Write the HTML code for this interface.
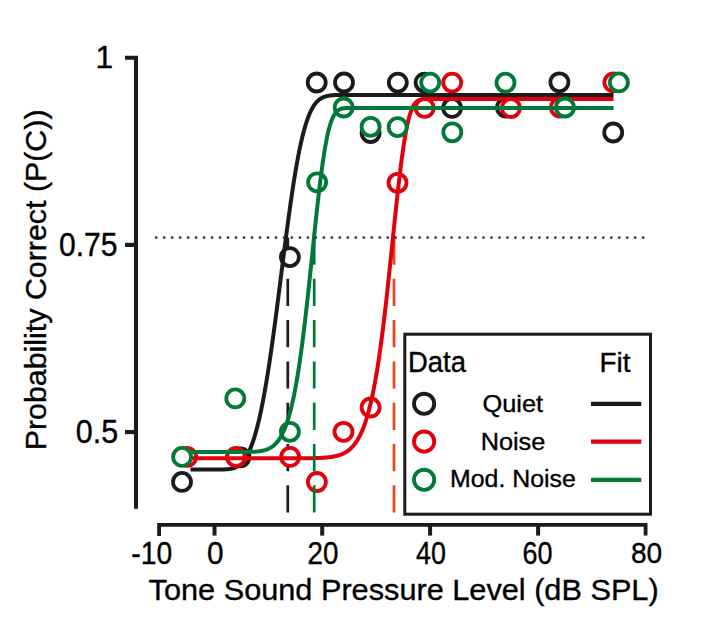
<!DOCTYPE html>
<html><head><meta charset="utf-8"><style>html,body{margin:0;padding:0;background:#fff;width:703px;height:627px;overflow:hidden}svg{display:block}</style></head>
<body><svg width="703" height="627" viewBox="0 0 703 627"><line x1="287.8" y1="237.5" x2="287.8" y2="512.7" stroke="#1b1b1b" stroke-width="2.7" stroke-dasharray="27.2 14.1"/>
<circle cx="182.0" cy="481.9" r="9.0" fill="#fff" stroke="#1b1b1b" stroke-width="3.8"/>
<circle cx="240.5" cy="457.3" r="9.0" fill="#fff" stroke="#1b1b1b" stroke-width="3.8"/>
<circle cx="289.9" cy="257.1" r="9.0" fill="#fff" stroke="#1b1b1b" stroke-width="3.8"/>
<circle cx="316.7" cy="82.5" r="9.0" fill="#fff" stroke="#1b1b1b" stroke-width="3.8"/>
<circle cx="344.0" cy="82.5" r="9.0" fill="#fff" stroke="#1b1b1b" stroke-width="3.8"/>
<circle cx="370.6" cy="133.0" r="9.0" fill="#fff" stroke="#1b1b1b" stroke-width="3.8"/>
<circle cx="397.8" cy="82.6" r="9.0" fill="#fff" stroke="#1b1b1b" stroke-width="3.8"/>
<circle cx="424.6" cy="82.6" r="9.0" fill="#fff" stroke="#1b1b1b" stroke-width="3.8"/>
<circle cx="452.1" cy="107.9" r="9.0" fill="#fff" stroke="#1b1b1b" stroke-width="3.8"/>
<circle cx="506.0" cy="107.5" r="9.0" fill="#fff" stroke="#1b1b1b" stroke-width="3.8"/>
<circle cx="559.4" cy="82.3" r="9.0" fill="#fff" stroke="#1b1b1b" stroke-width="3.8"/>
<circle cx="613.2" cy="132.5" r="9.0" fill="#fff" stroke="#1b1b1b" stroke-width="3.8"/>
<path d="M190.50,469.43 L191.00,469.43 L191.50,469.43 L192.00,469.43 L192.50,469.43 L193.00,469.43 L193.50,469.43 L194.00,469.43 L194.50,469.43 L195.00,469.43 L195.50,469.43 L196.00,469.43 L196.50,469.43 L197.00,469.43 L197.50,469.43 L198.00,469.43 L198.50,469.43 L199.00,469.43 L199.50,469.43 L200.00,469.43 L200.50,469.43 L201.00,469.43 L201.50,469.43 L202.00,469.43 L202.50,469.43 L203.00,469.43 L203.50,469.43 L204.00,469.43 L204.50,469.43 L205.00,469.43 L205.50,469.43 L206.00,469.43 L206.50,469.43 L207.00,469.43 L207.50,469.43 L208.00,469.43 L208.50,469.43 L209.00,469.43 L209.50,469.43 L210.00,469.43 L210.50,469.43 L211.00,469.43 L211.50,469.43 L212.00,469.43 L212.50,469.43 L213.00,469.43 L213.50,469.43 L214.00,469.43 L214.50,469.43 L215.00,469.43 L215.50,469.43 L216.00,469.43 L216.50,469.43 L217.00,469.43 L217.50,469.43 L218.00,469.43 L218.50,469.43 L219.00,469.43 L219.50,469.43 L220.00,469.43 L220.50,469.43 L221.00,469.43 L221.50,469.43 L222.00,469.42 L222.50,469.42 L223.00,469.42 L223.50,469.41 L224.00,469.40 L224.50,469.39 L225.00,469.37 L225.50,469.36 L226.00,469.34 L226.50,469.31 L227.00,469.28 L227.50,469.24 L228.00,469.20 L228.50,469.15 L229.00,469.10 L229.50,469.03 L230.00,468.96 L230.50,468.88 L231.00,468.79 L231.50,468.69 L232.00,468.57 L232.50,468.45 L233.00,468.31 L233.50,468.16 L234.00,467.99 L234.50,467.81 L235.00,467.61 L235.50,467.40 L236.00,467.16 L236.50,466.91 L237.00,466.64 L237.50,466.35 L238.00,466.03 L238.50,465.70 L239.00,465.33 L239.50,464.95 L240.00,464.54 L240.50,464.10 L241.00,463.63 L241.50,463.14 L242.00,462.61 L242.50,462.06 L243.00,461.47 L243.50,460.85 L244.00,460.20 L244.50,459.51 L245.00,458.78 L245.50,458.02 L246.00,457.22 L246.50,456.38 L247.00,455.50 L247.50,454.58 L248.00,453.61 L248.50,452.60 L249.00,451.55 L249.50,450.45 L250.00,449.31 L250.50,448.12 L251.00,446.88 L251.50,445.59 L252.00,444.25 L252.50,442.86 L253.00,441.42 L253.50,439.93 L254.00,438.38 L254.50,436.78 L255.00,435.13 L255.50,433.42 L256.00,431.65 L256.50,429.83 L257.00,427.95 L257.50,426.02 L258.00,424.02 L258.50,421.97 L259.00,419.86 L259.50,417.69 L260.00,415.46 L260.50,413.17 L261.00,410.82 L261.50,408.41 L262.00,405.95 L262.50,403.42 L263.00,400.84 L263.50,398.20 L264.00,395.50 L264.50,392.74 L265.00,389.92 L265.50,387.05 L266.00,384.12 L266.50,381.13 L267.00,378.09 L267.50,375.00 L268.00,371.85 L268.50,368.65 L269.00,365.40 L269.50,362.10 L270.00,358.75 L270.50,355.36 L271.00,351.91 L271.50,348.43 L272.00,344.90 L272.50,341.33 L273.00,337.72 L273.50,334.07 L274.00,330.39 L274.50,326.67 L275.00,322.92 L275.50,319.15 L276.00,315.34 L276.50,311.51 L277.00,307.65 L277.50,303.78 L278.00,299.88 L278.50,295.97 L279.00,292.05 L279.50,288.11 L280.00,284.17 L280.50,280.22 L281.00,276.27 L281.50,272.31 L282.00,268.36 L282.50,264.41 L283.00,260.47 L283.50,256.53 L284.00,252.61 L284.50,248.70 L285.00,244.82 L285.50,240.95 L286.00,237.10 L286.50,233.28 L287.00,229.48 L287.50,225.72 L288.00,221.99 L288.50,218.29 L289.00,214.63 L289.50,211.01 L290.00,207.43 L290.50,203.90 L291.00,200.41 L291.50,196.97 L292.00,193.58 L292.50,190.24 L293.00,186.95 L293.50,183.72 L294.00,180.54 L294.50,177.43 L295.00,174.37 L295.50,171.37 L296.00,168.44 L296.50,165.57 L297.00,162.76 L297.50,160.01 L298.00,157.34 L298.50,154.72 L299.00,152.18 L299.50,149.70 L300.00,147.29 L300.50,144.95 L301.00,142.67 L301.50,140.46 L302.00,138.32 L302.50,136.25 L303.00,134.24 L303.50,132.31 L304.00,130.43 L304.50,128.62 L305.00,126.88 L305.50,125.20 L306.00,123.59 L306.50,122.03 L307.00,120.54 L307.50,119.11 L308.00,117.74 L308.50,116.43 L309.00,115.17 L309.50,113.97 L310.00,112.82 L310.50,111.73 L311.00,110.69 L311.50,109.70 L312.00,108.75 L312.50,107.86 L313.00,107.01 L313.50,106.20 L314.00,105.44 L314.50,104.72 L315.00,104.04 L315.50,103.39 L316.00,102.79 L316.50,102.22 L317.00,101.68 L317.50,101.18 L318.00,100.70 L318.50,100.26 L319.00,99.84 L319.50,99.46 L320.00,99.09 L320.50,98.76 L321.00,98.44 L321.50,98.15 L322.00,97.87 L322.50,97.62 L323.00,97.39 L323.50,97.17 L324.00,96.97 L324.50,96.78 L325.00,96.61 L325.50,96.45 L326.00,96.31 L326.50,96.18 L327.00,96.05 L327.50,95.94 L328.00,95.84 L328.50,95.74 L329.00,95.66 L329.50,95.58 L330.00,95.51 L330.50,95.44 L331.00,95.39 L331.50,95.33 L332.00,95.28 L332.50,95.24 L333.00,95.20 L333.50,95.17 L334.00,95.13 L334.50,95.11 L335.00,95.08 L335.50,95.06 L336.00,95.04 L336.50,95.02 L337.00,95.00 L337.50,94.99 L338.00,94.97 L338.50,94.96 L339.00,94.95 L339.50,94.94 L340.00,94.94 L340.50,94.93 L341.00,94.92 L341.50,94.92 L342.00,94.91 L342.50,94.91 L343.00,94.90 L343.50,94.90 L344.00,94.90 L344.50,94.90 L345.00,94.89 L345.50,94.89 L346.00,94.89 L346.50,94.89 L347.00,94.89 L347.50,94.89 L348.00,94.89 L348.50,94.88 L349.00,94.88 L349.50,94.88 L350.00,94.88 L350.50,94.88 L351.00,94.88 L351.50,94.88 L352.00,94.88 L352.50,94.88 L353.00,94.88 L353.50,94.88 L354.00,94.88 L354.50,94.88 L355.00,94.88 L355.50,94.88 L356.00,94.88 L356.50,94.88 L357.00,94.88 L357.50,94.88 L358.00,94.88 L358.50,94.88 L359.00,94.88 L359.50,94.88 L360.00,94.88 L360.50,94.88 L361.00,94.88 L361.50,94.88 L362.00,94.88 L362.50,94.88 L363.00,94.88 L363.50,94.88 L364.00,94.88 L364.50,94.88 L365.00,94.88 L365.50,94.88 L366.00,94.88 L366.50,94.88 L367.00,94.88 L367.50,94.88 L368.00,94.88 L368.50,94.88 L369.00,94.88 L369.50,94.88 L370.00,94.88 L370.50,94.88 L371.00,94.88 L371.50,94.88 L372.00,94.88 L372.50,94.88 L373.00,94.88 L373.50,94.88 L374.00,94.88 L374.50,94.88 L375.00,94.88 L375.50,94.88 L376.00,94.88 L376.50,94.88 L377.00,94.88 L377.50,94.88 L378.00,94.88 L378.50,94.88 L379.00,94.88 L379.50,94.88 L380.00,94.88 L380.50,94.88 L381.00,94.88 L381.50,94.88 L382.00,94.88 L382.50,94.88 L383.00,94.88 L383.50,94.88 L384.00,94.88 L384.50,94.88 L385.00,94.88 L385.50,94.88 L386.00,94.88 L386.50,94.88 L387.00,94.88 L387.50,94.88 L388.00,94.88 L388.50,94.88 L389.00,94.88 L389.50,94.88 L390.00,94.88 L390.50,94.88 L391.00,94.88 L391.50,94.88 L392.00,94.88 L392.50,94.88 L393.00,94.88 L393.50,94.88 L394.00,94.88 L394.50,94.88 L395.00,94.88 L395.50,94.88 L396.00,94.88 L396.50,94.88 L397.00,94.88 L397.50,94.88 L398.00,94.88 L398.50,94.88 L399.00,94.88 L399.50,94.88 L400.00,94.88 L400.50,94.88 L401.00,94.88 L401.50,94.88 L402.00,94.88 L402.50,94.88 L403.00,94.88 L403.50,94.88 L404.00,94.88 L404.50,94.88 L405.00,94.88 L405.50,94.88 L406.00,94.88 L406.50,94.88 L407.00,94.88 L407.50,94.88 L408.00,94.88 L408.50,94.88 L409.00,94.88 L409.50,94.88 L410.00,94.88 L410.50,94.88 L411.00,94.88 L411.50,94.88 L412.00,94.88 L412.50,94.88 L413.00,94.88 L413.50,94.88 L414.00,94.88 L414.50,94.88 L415.00,94.88 L415.50,94.88 L416.00,94.88 L416.50,94.88 L417.00,94.88 L417.50,94.88 L418.00,94.88 L418.50,94.88 L419.00,94.88 L419.50,94.88 L420.00,94.88 L420.50,94.88 L421.00,94.88 L421.50,94.88 L422.00,94.88 L422.50,94.88 L423.00,94.88 L423.50,94.88 L424.00,94.88 L424.50,94.88 L425.00,94.88 L425.50,94.88 L426.00,94.88 L426.50,94.88 L427.00,94.88 L427.50,94.88 L428.00,94.88 L428.50,94.88 L429.00,94.88 L429.50,94.88 L430.00,94.88 L430.50,94.88 L431.00,94.88 L431.50,94.88 L432.00,94.88 L432.50,94.88 L433.00,94.88 L433.50,94.88 L434.00,94.88 L434.50,94.88 L435.00,94.88 L435.50,94.88 L436.00,94.88 L436.50,94.88 L437.00,94.88 L437.50,94.88 L438.00,94.88 L438.50,94.88 L439.00,94.88 L439.50,94.88 L440.00,94.88 L440.50,94.88 L441.00,94.88 L441.50,94.88 L442.00,94.88 L442.50,94.88 L443.00,94.88 L443.50,94.88 L444.00,94.88 L444.50,94.88 L445.00,94.88 L445.50,94.88 L446.00,94.88 L446.50,94.88 L447.00,94.88 L447.50,94.88 L448.00,94.88 L448.50,94.88 L449.00,94.88 L449.50,94.88 L450.00,94.88 L450.50,94.88 L451.00,94.88 L451.50,94.88 L452.00,94.88 L452.50,94.88 L453.00,94.88 L453.50,94.88 L454.00,94.88 L454.50,94.88 L455.00,94.88 L455.50,94.88 L456.00,94.88 L456.50,94.88 L457.00,94.88 L457.50,94.88 L458.00,94.88 L458.50,94.88 L459.00,94.88 L459.50,94.88 L460.00,94.88 L460.50,94.88 L461.00,94.88 L461.50,94.88 L462.00,94.88 L462.50,94.88 L463.00,94.88 L463.50,94.88 L464.00,94.88 L464.50,94.88 L465.00,94.88 L465.50,94.88 L466.00,94.88 L466.50,94.88 L467.00,94.88 L467.50,94.88 L468.00,94.88 L468.50,94.88 L469.00,94.88 L469.50,94.88 L470.00,94.88 L470.50,94.88 L471.00,94.88 L471.50,94.88 L472.00,94.88 L472.50,94.88 L473.00,94.88 L473.50,94.88 L474.00,94.88 L474.50,94.88 L475.00,94.88 L475.50,94.88 L476.00,94.88 L476.50,94.88 L477.00,94.88 L477.50,94.88 L478.00,94.88 L478.50,94.88 L479.00,94.88 L479.50,94.88 L480.00,94.88 L480.50,94.88 L481.00,94.88 L481.50,94.88 L482.00,94.88 L482.50,94.88 L483.00,94.88 L483.50,94.88 L484.00,94.88 L484.50,94.88 L485.00,94.88 L485.50,94.88 L486.00,94.88 L486.50,94.88 L487.00,94.88 L487.50,94.88 L488.00,94.88 L488.50,94.88 L489.00,94.88 L489.50,94.88 L490.00,94.88 L490.50,94.88 L491.00,94.88 L491.50,94.88 L492.00,94.88 L492.50,94.88 L493.00,94.88 L493.50,94.88 L494.00,94.88 L494.50,94.88 L495.00,94.88 L495.50,94.88 L496.00,94.88 L496.50,94.88 L497.00,94.88 L497.50,94.88 L498.00,94.88 L498.50,94.88 L499.00,94.88 L499.50,94.88 L500.00,94.88 L500.50,94.88 L501.00,94.88 L501.50,94.88 L502.00,94.88 L502.50,94.88 L503.00,94.88 L503.50,94.88 L504.00,94.88 L504.50,94.88 L505.00,94.88 L505.50,94.88 L506.00,94.88 L506.50,94.88 L507.00,94.88 L507.50,94.88 L508.00,94.88 L508.50,94.88 L509.00,94.88 L509.50,94.88 L510.00,94.88 L510.50,94.88 L511.00,94.88 L511.50,94.88 L512.00,94.88 L512.50,94.88 L513.00,94.88 L513.50,94.88 L514.00,94.88 L514.50,94.88 L515.00,94.88 L515.50,94.88 L516.00,94.88 L516.50,94.88 L517.00,94.88 L517.50,94.88 L518.00,94.88 L518.50,94.88 L519.00,94.88 L519.50,94.88 L520.00,94.88 L520.50,94.88 L521.00,94.88 L521.50,94.88 L522.00,94.88 L522.50,94.88 L523.00,94.88 L523.50,94.88 L524.00,94.88 L524.50,94.88 L525.00,94.88 L525.50,94.88 L526.00,94.88 L526.50,94.88 L527.00,94.88 L527.50,94.88 L528.00,94.88 L528.50,94.88 L529.00,94.88 L529.50,94.88 L530.00,94.88 L530.50,94.88 L531.00,94.88 L531.50,94.88 L532.00,94.88 L532.50,94.88 L533.00,94.88 L533.50,94.88 L534.00,94.88 L534.50,94.88 L535.00,94.88 L535.50,94.88 L536.00,94.88 L536.50,94.88 L537.00,94.88 L537.50,94.88 L538.00,94.88 L538.50,94.88 L539.00,94.88 L539.50,94.88 L540.00,94.88 L540.50,94.88 L541.00,94.88 L541.50,94.88 L542.00,94.88 L542.50,94.88 L543.00,94.88 L543.50,94.88 L544.00,94.88 L544.50,94.88 L545.00,94.88 L545.50,94.88 L546.00,94.88 L546.50,94.88 L547.00,94.88 L547.50,94.88 L548.00,94.88 L548.50,94.88 L549.00,94.88 L549.50,94.88 L550.00,94.88 L550.50,94.88 L551.00,94.88 L551.50,94.88 L552.00,94.88 L552.50,94.88 L553.00,94.88 L553.50,94.88 L554.00,94.88 L554.50,94.88 L555.00,94.88 L555.50,94.88 L556.00,94.88 L556.50,94.88 L557.00,94.88 L557.50,94.88 L558.00,94.88 L558.50,94.88 L559.00,94.88 L559.50,94.88 L560.00,94.88 L560.50,94.88 L561.00,94.88 L561.50,94.88 L562.00,94.88 L562.50,94.88 L563.00,94.88 L563.50,94.88 L564.00,94.88 L564.50,94.88 L565.00,94.88 L565.50,94.88 L566.00,94.88 L566.50,94.88 L567.00,94.88 L567.50,94.88 L568.00,94.88 L568.50,94.88 L569.00,94.88 L569.50,94.88 L570.00,94.88 L570.50,94.88 L571.00,94.88 L571.50,94.88 L572.00,94.88 L572.50,94.88 L573.00,94.88 L573.50,94.88 L574.00,94.88 L574.50,94.88 L575.00,94.88 L575.50,94.88 L576.00,94.88 L576.50,94.88 L577.00,94.88 L577.50,94.88 L578.00,94.88 L578.50,94.88 L579.00,94.88 L579.50,94.88 L580.00,94.88 L580.50,94.88 L581.00,94.88 L581.50,94.88 L582.00,94.88 L582.50,94.88 L583.00,94.88 L583.50,94.88 L584.00,94.88 L584.50,94.88 L585.00,94.88 L585.50,94.88 L586.00,94.88 L586.50,94.88 L587.00,94.88 L587.50,94.88 L588.00,94.88 L588.50,94.88 L589.00,94.88 L589.50,94.88 L590.00,94.88 L590.50,94.88 L591.00,94.88 L591.50,94.88 L592.00,94.88 L592.50,94.88 L593.00,94.88 L593.50,94.88 L594.00,94.88 L594.50,94.88 L595.00,94.88 L595.50,94.88 L596.00,94.88 L596.50,94.88 L597.00,94.88 L597.50,94.88 L598.00,94.88 L598.50,94.88 L599.00,94.88 L599.50,94.88 L600.00,94.88 L600.50,94.88 L601.00,94.88 L601.50,94.88 L602.00,94.88 L602.50,94.88 L603.00,94.88 L603.50,94.88 L604.00,94.88 L604.50,94.88 L605.00,94.88 L605.50,94.88 L606.00,94.88 L606.50,94.88 L607.00,94.88 L607.50,94.88 L608.00,94.88 L608.50,94.88 L609.00,94.88 L609.50,94.88 L610.00,94.88 L610.50,94.88 L611.00,94.88 L611.50,94.88 L612.00,94.88 L612.50,94.88 L613.00,94.88 L613.50,94.88" fill="none" stroke="#1b1b1b" stroke-width="4" stroke-linejoin="round"/>
<line x1="394.0" y1="237.5" x2="394.0" y2="512.7" stroke="#e8471c" stroke-width="2.7" stroke-dasharray="27.2 14.1"/>
<circle cx="187.2" cy="456.9" r="9.0" fill="#fff" stroke="#e1000b" stroke-width="3.8"/>
<circle cx="236.0" cy="457.0" r="9.0" fill="#fff" stroke="#e1000b" stroke-width="3.8"/>
<circle cx="290.1" cy="456.9" r="9.0" fill="#fff" stroke="#e1000b" stroke-width="3.8"/>
<circle cx="316.9" cy="482.0" r="9.0" fill="#fff" stroke="#e1000b" stroke-width="3.8"/>
<circle cx="343.5" cy="431.8" r="9.0" fill="#fff" stroke="#e1000b" stroke-width="3.8"/>
<circle cx="370.6" cy="407.5" r="9.0" fill="#fff" stroke="#e1000b" stroke-width="3.8"/>
<circle cx="397.5" cy="182.8" r="9.0" fill="#fff" stroke="#e1000b" stroke-width="3.8"/>
<circle cx="424.7" cy="107.9" r="9.0" fill="#fff" stroke="#e1000b" stroke-width="3.8"/>
<circle cx="452.2" cy="82.6" r="9.0" fill="#fff" stroke="#e1000b" stroke-width="3.8"/>
<circle cx="510.9" cy="108.0" r="9.0" fill="#fff" stroke="#e1000b" stroke-width="3.8"/>
<circle cx="559.9" cy="107.5" r="9.0" fill="#fff" stroke="#e1000b" stroke-width="3.8"/>
<circle cx="613.4" cy="82.4" r="9.0" fill="#fff" stroke="#e1000b" stroke-width="3.8"/>
<path d="M190.50,458.27 L191.00,458.27 L191.50,458.27 L192.00,458.27 L192.50,458.27 L193.00,458.27 L193.50,458.27 L194.00,458.27 L194.50,458.27 L195.00,458.27 L195.50,458.27 L196.00,458.27 L196.50,458.27 L197.00,458.27 L197.50,458.27 L198.00,458.27 L198.50,458.27 L199.00,458.27 L199.50,458.27 L200.00,458.27 L200.50,458.27 L201.00,458.27 L201.50,458.27 L202.00,458.27 L202.50,458.27 L203.00,458.27 L203.50,458.27 L204.00,458.27 L204.50,458.27 L205.00,458.27 L205.50,458.27 L206.00,458.27 L206.50,458.27 L207.00,458.27 L207.50,458.27 L208.00,458.27 L208.50,458.27 L209.00,458.27 L209.50,458.27 L210.00,458.27 L210.50,458.27 L211.00,458.27 L211.50,458.27 L212.00,458.27 L212.50,458.27 L213.00,458.27 L213.50,458.27 L214.00,458.27 L214.50,458.27 L215.00,458.27 L215.50,458.27 L216.00,458.27 L216.50,458.27 L217.00,458.27 L217.50,458.27 L218.00,458.27 L218.50,458.27 L219.00,458.27 L219.50,458.27 L220.00,458.27 L220.50,458.27 L221.00,458.27 L221.50,458.27 L222.00,458.27 L222.50,458.27 L223.00,458.27 L223.50,458.27 L224.00,458.27 L224.50,458.27 L225.00,458.27 L225.50,458.27 L226.00,458.27 L226.50,458.27 L227.00,458.27 L227.50,458.27 L228.00,458.27 L228.50,458.27 L229.00,458.27 L229.50,458.27 L230.00,458.27 L230.50,458.27 L231.00,458.27 L231.50,458.27 L232.00,458.27 L232.50,458.27 L233.00,458.27 L233.50,458.27 L234.00,458.27 L234.50,458.27 L235.00,458.27 L235.50,458.27 L236.00,458.27 L236.50,458.27 L237.00,458.27 L237.50,458.27 L238.00,458.27 L238.50,458.27 L239.00,458.27 L239.50,458.27 L240.00,458.27 L240.50,458.27 L241.00,458.27 L241.50,458.27 L242.00,458.27 L242.50,458.27 L243.00,458.27 L243.50,458.27 L244.00,458.27 L244.50,458.27 L245.00,458.27 L245.50,458.27 L246.00,458.27 L246.50,458.27 L247.00,458.27 L247.50,458.27 L248.00,458.27 L248.50,458.27 L249.00,458.27 L249.50,458.27 L250.00,458.27 L250.50,458.27 L251.00,458.27 L251.50,458.27 L252.00,458.27 L252.50,458.27 L253.00,458.27 L253.50,458.27 L254.00,458.27 L254.50,458.27 L255.00,458.27 L255.50,458.27 L256.00,458.27 L256.50,458.27 L257.00,458.27 L257.50,458.27 L258.00,458.27 L258.50,458.27 L259.00,458.27 L259.50,458.27 L260.00,458.27 L260.50,458.27 L261.00,458.27 L261.50,458.27 L262.00,458.27 L262.50,458.27 L263.00,458.27 L263.50,458.27 L264.00,458.27 L264.50,458.27 L265.00,458.27 L265.50,458.27 L266.00,458.27 L266.50,458.27 L267.00,458.27 L267.50,458.27 L268.00,458.27 L268.50,458.27 L269.00,458.27 L269.50,458.27 L270.00,458.27 L270.50,458.27 L271.00,458.27 L271.50,458.27 L272.00,458.27 L272.50,458.27 L273.00,458.27 L273.50,458.27 L274.00,458.27 L274.50,458.27 L275.00,458.27 L275.50,458.27 L276.00,458.27 L276.50,458.27 L277.00,458.27 L277.50,458.27 L278.00,458.27 L278.50,458.27 L279.00,458.27 L279.50,458.27 L280.00,458.27 L280.50,458.27 L281.00,458.27 L281.50,458.27 L282.00,458.27 L282.50,458.27 L283.00,458.27 L283.50,458.27 L284.00,458.27 L284.50,458.27 L285.00,458.27 L285.50,458.27 L286.00,458.27 L286.50,458.27 L287.00,458.27 L287.50,458.27 L288.00,458.27 L288.50,458.27 L289.00,458.27 L289.50,458.27 L290.00,458.27 L290.50,458.27 L291.00,458.27 L291.50,458.27 L292.00,458.26 L292.50,458.26 L293.00,458.26 L293.50,458.26 L294.00,458.26 L294.50,458.26 L295.00,458.26 L295.50,458.26 L296.00,458.26 L296.50,458.26 L297.00,458.26 L297.50,458.26 L298.00,458.25 L298.50,458.25 L299.00,458.25 L299.50,458.25 L300.00,458.25 L300.50,458.25 L301.00,458.25 L301.50,458.24 L302.00,458.24 L302.50,458.24 L303.00,458.24 L303.50,458.23 L304.00,458.23 L304.50,458.23 L305.00,458.22 L305.50,458.22 L306.00,458.22 L306.50,458.21 L307.00,458.21 L307.50,458.20 L308.00,458.20 L308.50,458.19 L309.00,458.19 L309.50,458.18 L310.00,458.18 L310.50,458.17 L311.00,458.16 L311.50,458.16 L312.00,458.15 L312.50,458.14 L313.00,458.13 L313.50,458.12 L314.00,458.11 L314.50,458.10 L315.00,458.09 L315.50,458.07 L316.00,458.06 L316.50,458.05 L317.00,458.03 L317.50,458.02 L318.00,458.00 L318.50,457.98 L319.00,457.96 L319.50,457.94 L320.00,457.92 L320.50,457.90 L321.00,457.88 L321.50,457.85 L322.00,457.83 L322.50,457.80 L323.00,457.77 L323.50,457.74 L324.00,457.70 L324.50,457.67 L325.00,457.63 L325.50,457.59 L326.00,457.55 L326.50,457.51 L327.00,457.46 L327.50,457.41 L328.00,457.36 L328.50,457.31 L329.00,457.25 L329.50,457.19 L330.00,457.13 L330.50,457.06 L331.00,456.99 L331.50,456.92 L332.00,456.84 L332.50,456.76 L333.00,456.67 L333.50,456.58 L334.00,456.49 L334.50,456.39 L335.00,456.28 L335.50,456.17 L336.00,456.06 L336.50,455.93 L337.00,455.81 L337.50,455.67 L338.00,455.53 L338.50,455.38 L339.00,455.22 L339.50,455.06 L340.00,454.89 L340.50,454.71 L341.00,454.52 L341.50,454.32 L342.00,454.12 L342.50,453.90 L343.00,453.67 L343.50,453.43 L344.00,453.18 L344.50,452.92 L345.00,452.65 L345.50,452.36 L346.00,452.06 L346.50,451.74 L347.00,451.42 L347.50,451.07 L348.00,450.71 L348.50,450.34 L349.00,449.95 L349.50,449.54 L350.00,449.11 L350.50,448.66 L351.00,448.19 L351.50,447.71 L352.00,447.20 L352.50,446.67 L353.00,446.11 L353.50,445.53 L354.00,444.93 L354.50,444.30 L355.00,443.65 L355.50,442.97 L356.00,442.26 L356.50,441.52 L357.00,440.75 L357.50,439.95 L358.00,439.11 L358.50,438.24 L359.00,437.34 L359.50,436.40 L360.00,435.42 L360.50,434.41 L361.00,433.35 L361.50,432.26 L362.00,431.12 L362.50,429.94 L363.00,428.71 L363.50,427.44 L364.00,426.12 L364.50,424.75 L365.00,423.33 L365.50,421.86 L366.00,420.34 L366.50,418.76 L367.00,417.13 L367.50,415.44 L368.00,413.69 L368.50,411.88 L369.00,410.00 L369.50,408.07 L370.00,406.07 L370.50,404.01 L371.00,401.88 L371.50,399.68 L372.00,397.41 L372.50,395.07 L373.00,392.66 L373.50,390.17 L374.00,387.61 L374.50,384.98 L375.00,382.27 L375.50,379.48 L376.00,376.62 L376.50,373.68 L377.00,370.65 L377.50,367.55 L378.00,364.37 L378.50,361.11 L379.00,357.77 L379.50,354.35 L380.00,350.85 L380.50,347.26 L381.00,343.60 L381.50,339.87 L382.00,336.05 L382.50,332.16 L383.00,328.19 L383.50,324.15 L384.00,320.03 L384.50,315.85 L385.00,311.60 L385.50,307.28 L386.00,302.90 L386.50,298.46 L387.00,293.96 L387.50,289.41 L388.00,284.81 L388.50,280.16 L389.00,275.47 L389.50,270.74 L390.00,265.98 L390.50,261.19 L391.00,256.38 L391.50,251.55 L392.00,246.71 L392.50,241.87 L393.00,237.02 L393.50,232.18 L394.00,227.35 L394.50,222.54 L395.00,217.75 L395.50,213.00 L396.00,208.28 L396.50,203.61 L397.00,199.00 L397.50,194.44 L398.00,189.94 L398.50,185.52 L399.00,181.17 L399.50,176.91 L400.00,172.74 L400.50,168.67 L401.00,164.69 L401.50,160.83 L402.00,157.07 L402.50,153.43 L403.00,149.91 L403.50,146.52 L404.00,143.25 L404.50,140.11 L405.00,137.10 L405.50,134.23 L406.00,131.49 L406.50,128.88 L407.00,126.41 L407.50,124.08 L408.00,121.88 L408.50,119.81 L409.00,117.87 L409.50,116.06 L410.00,114.37 L410.50,112.80 L411.00,111.35 L411.50,110.02 L412.00,108.79 L412.50,107.67 L413.00,106.64 L413.50,105.71 L414.00,104.87 L414.50,104.11 L415.00,103.44 L415.50,102.83 L416.00,102.29 L416.50,101.81 L417.00,101.39 L417.50,101.02 L418.00,100.70 L418.50,100.42 L419.00,100.18 L419.50,99.97 L420.00,99.79 L420.50,99.64 L421.00,99.51 L421.50,99.41 L422.00,99.32 L422.50,99.24 L423.00,99.18 L423.50,99.13 L424.00,99.09 L424.50,99.06 L425.00,99.04 L425.50,99.01 L426.00,99.00 L426.50,98.99 L427.00,98.98 L427.50,98.97 L428.00,98.96 L428.50,98.96 L429.00,98.95 L429.50,98.95 L430.00,98.95 L430.50,98.95 L431.00,98.95 L431.50,98.95 L432.00,98.95 L432.50,98.95 L433.00,98.95 L433.50,98.95 L434.00,98.95 L434.50,98.95 L435.00,98.95 L435.50,98.95 L436.00,98.95 L436.50,98.95 L437.00,98.95 L437.50,98.95 L438.00,98.95 L438.50,98.95 L439.00,98.95 L439.50,98.95 L440.00,98.95 L440.50,98.95 L441.00,98.95 L441.50,98.95 L442.00,98.95 L442.50,98.95 L443.00,98.95 L443.50,98.95 L444.00,98.95 L444.50,98.95 L445.00,98.95 L445.50,98.95 L446.00,98.95 L446.50,98.95 L447.00,98.95 L447.50,98.95 L448.00,98.95 L448.50,98.95 L449.00,98.95 L449.50,98.95 L450.00,98.95 L450.50,98.95 L451.00,98.94 L451.50,98.94 L452.00,98.94 L452.50,98.94 L453.00,98.94 L453.50,98.94 L454.00,98.94 L454.50,98.94 L455.00,98.94 L455.50,98.94 L456.00,98.94 L456.50,98.94 L457.00,98.94 L457.50,98.94 L458.00,98.94 L458.50,98.94 L459.00,98.94 L459.50,98.94 L460.00,98.94 L460.50,98.94 L461.00,98.94 L461.50,98.94 L462.00,98.94 L462.50,98.94 L463.00,98.94 L463.50,98.94 L464.00,98.94 L464.50,98.94 L465.00,98.94 L465.50,98.94 L466.00,98.94 L466.50,98.94 L467.00,98.94 L467.50,98.94 L468.00,98.94 L468.50,98.94 L469.00,98.94 L469.50,98.94 L470.00,98.94 L470.50,98.94 L471.00,98.94 L471.50,98.94 L472.00,98.94 L472.50,98.94 L473.00,98.94 L473.50,98.94 L474.00,98.94 L474.50,98.94 L475.00,98.94 L475.50,98.94 L476.00,98.94 L476.50,98.94 L477.00,98.94 L477.50,98.94 L478.00,98.94 L478.50,98.94 L479.00,98.94 L479.50,98.94 L480.00,98.94 L480.50,98.94 L481.00,98.94 L481.50,98.94 L482.00,98.94 L482.50,98.94 L483.00,98.94 L483.50,98.94 L484.00,98.94 L484.50,98.94 L485.00,98.94 L485.50,98.94 L486.00,98.94 L486.50,98.94 L487.00,98.94 L487.50,98.94 L488.00,98.94 L488.50,98.94 L489.00,98.94 L489.50,98.94 L490.00,98.94 L490.50,98.94 L491.00,98.94 L491.50,98.94 L492.00,98.94 L492.50,98.94 L493.00,98.94 L493.50,98.94 L494.00,98.94 L494.50,98.94 L495.00,98.94 L495.50,98.94 L496.00,98.94 L496.50,98.94 L497.00,98.94 L497.50,98.94 L498.00,98.94 L498.50,98.94 L499.00,98.94 L499.50,98.94 L500.00,98.94 L500.50,98.94 L501.00,98.94 L501.50,98.94 L502.00,98.94 L502.50,98.94 L503.00,98.94 L503.50,98.94 L504.00,98.94 L504.50,98.94 L505.00,98.94 L505.50,98.94 L506.00,98.94 L506.50,98.94 L507.00,98.94 L507.50,98.94 L508.00,98.94 L508.50,98.94 L509.00,98.94 L509.50,98.94 L510.00,98.94 L510.50,98.94 L511.00,98.94 L511.50,98.94 L512.00,98.94 L512.50,98.94 L513.00,98.94 L513.50,98.94 L514.00,98.94 L514.50,98.94 L515.00,98.94 L515.50,98.94 L516.00,98.94 L516.50,98.94 L517.00,98.94 L517.50,98.94 L518.00,98.94 L518.50,98.94 L519.00,98.94 L519.50,98.94 L520.00,98.94 L520.50,98.94 L521.00,98.94 L521.50,98.94 L522.00,98.94 L522.50,98.94 L523.00,98.94 L523.50,98.94 L524.00,98.94 L524.50,98.94 L525.00,98.94 L525.50,98.94 L526.00,98.94 L526.50,98.94 L527.00,98.94 L527.50,98.94 L528.00,98.94 L528.50,98.94 L529.00,98.94 L529.50,98.94 L530.00,98.94 L530.50,98.94 L531.00,98.94 L531.50,98.94 L532.00,98.94 L532.50,98.94 L533.00,98.94 L533.50,98.94 L534.00,98.94 L534.50,98.94 L535.00,98.94 L535.50,98.94 L536.00,98.94 L536.50,98.94 L537.00,98.94 L537.50,98.94 L538.00,98.94 L538.50,98.94 L539.00,98.94 L539.50,98.94 L540.00,98.94 L540.50,98.94 L541.00,98.94 L541.50,98.94 L542.00,98.94 L542.50,98.94 L543.00,98.94 L543.50,98.94 L544.00,98.94 L544.50,98.94 L545.00,98.94 L545.50,98.94 L546.00,98.94 L546.50,98.94 L547.00,98.94 L547.50,98.94 L548.00,98.94 L548.50,98.94 L549.00,98.94 L549.50,98.94 L550.00,98.94 L550.50,98.94 L551.00,98.94 L551.50,98.94 L552.00,98.94 L552.50,98.94 L553.00,98.94 L553.50,98.94 L554.00,98.94 L554.50,98.94 L555.00,98.94 L555.50,98.94 L556.00,98.94 L556.50,98.94 L557.00,98.94 L557.50,98.94 L558.00,98.94 L558.50,98.94 L559.00,98.94 L559.50,98.94 L560.00,98.94 L560.50,98.94 L561.00,98.94 L561.50,98.94 L562.00,98.94 L562.50,98.94 L563.00,98.94 L563.50,98.94 L564.00,98.94 L564.50,98.94 L565.00,98.94 L565.50,98.94 L566.00,98.94 L566.50,98.94 L567.00,98.94 L567.50,98.94 L568.00,98.94 L568.50,98.94 L569.00,98.94 L569.50,98.94 L570.00,98.94 L570.50,98.94 L571.00,98.94 L571.50,98.94 L572.00,98.94 L572.50,98.94 L573.00,98.94 L573.50,98.94 L574.00,98.94 L574.50,98.94 L575.00,98.94 L575.50,98.94 L576.00,98.94 L576.50,98.94 L577.00,98.94 L577.50,98.94 L578.00,98.94 L578.50,98.94 L579.00,98.94 L579.50,98.94 L580.00,98.94 L580.50,98.94 L581.00,98.94 L581.50,98.94 L582.00,98.94 L582.50,98.94 L583.00,98.94 L583.50,98.94 L584.00,98.94 L584.50,98.94 L585.00,98.94 L585.50,98.94 L586.00,98.94 L586.50,98.94 L587.00,98.94 L587.50,98.94 L588.00,98.94 L588.50,98.94 L589.00,98.94 L589.50,98.94 L590.00,98.94 L590.50,98.94 L591.00,98.94 L591.50,98.94 L592.00,98.94 L592.50,98.94 L593.00,98.94 L593.50,98.94 L594.00,98.94 L594.50,98.94 L595.00,98.94 L595.50,98.94 L596.00,98.94 L596.50,98.94 L597.00,98.94 L597.50,98.94 L598.00,98.94 L598.50,98.94 L599.00,98.94 L599.50,98.94 L600.00,98.94 L600.50,98.94 L601.00,98.94 L601.50,98.94 L602.00,98.94 L602.50,98.94 L603.00,98.94 L603.50,98.94 L604.00,98.94 L604.50,98.94 L605.00,98.94 L605.50,98.94 L606.00,98.94 L606.50,98.94 L607.00,98.94 L607.50,98.94 L608.00,98.94 L608.50,98.94 L609.00,98.94 L609.50,98.94 L610.00,98.94 L610.50,98.94 L611.00,98.94 L611.50,98.94 L612.00,98.94 L612.50,98.94 L613.00,98.94 L613.50,98.94" fill="none" stroke="#e1000b" stroke-width="4" stroke-linejoin="round"/>
<line x1="314.2" y1="237.5" x2="314.2" y2="512.7" stroke="#007a36" stroke-width="2.7" stroke-dasharray="27.2 14.1"/>
<circle cx="182.1" cy="456.9" r="9.0" fill="#fff" stroke="#007a36" stroke-width="3.8"/>
<circle cx="235.3" cy="398.4" r="9.0" fill="#fff" stroke="#007a36" stroke-width="3.8"/>
<circle cx="289.9" cy="431.8" r="9.0" fill="#fff" stroke="#007a36" stroke-width="3.8"/>
<circle cx="317.1" cy="182.3" r="9.0" fill="#fff" stroke="#007a36" stroke-width="3.8"/>
<circle cx="343.7" cy="107.5" r="9.0" fill="#fff" stroke="#007a36" stroke-width="3.8"/>
<circle cx="370.6" cy="126.8" r="9.0" fill="#fff" stroke="#007a36" stroke-width="3.8"/>
<circle cx="397.6" cy="127.1" r="9.0" fill="#fff" stroke="#007a36" stroke-width="3.8"/>
<circle cx="430.2" cy="82.6" r="9.0" fill="#fff" stroke="#007a36" stroke-width="3.8"/>
<circle cx="452.3" cy="132.3" r="9.0" fill="#fff" stroke="#007a36" stroke-width="3.8"/>
<circle cx="505.5" cy="82.7" r="9.0" fill="#fff" stroke="#007a36" stroke-width="3.8"/>
<circle cx="565.0" cy="107.5" r="9.0" fill="#fff" stroke="#007a36" stroke-width="3.8"/>
<circle cx="618.9" cy="82.4" r="9.0" fill="#fff" stroke="#007a36" stroke-width="3.8"/>
<path d="M190.50,452.06 L191.00,452.06 L191.50,452.06 L192.00,452.06 L192.50,452.06 L193.00,452.06 L193.50,452.06 L194.00,452.06 L194.50,452.06 L195.00,452.06 L195.50,452.06 L196.00,452.06 L196.50,452.06 L197.00,452.06 L197.50,452.06 L198.00,452.06 L198.50,452.06 L199.00,452.06 L199.50,452.06 L200.00,452.06 L200.50,452.06 L201.00,452.06 L201.50,452.06 L202.00,452.06 L202.50,452.06 L203.00,452.06 L203.50,452.06 L204.00,452.06 L204.50,452.06 L205.00,452.06 L205.50,452.06 L206.00,452.06 L206.50,452.06 L207.00,452.06 L207.50,452.06 L208.00,452.06 L208.50,452.06 L209.00,452.06 L209.50,452.06 L210.00,452.06 L210.50,452.06 L211.00,452.06 L211.50,452.06 L212.00,452.06 L212.50,452.06 L213.00,452.06 L213.50,452.06 L214.00,452.06 L214.50,452.06 L215.00,452.06 L215.50,452.06 L216.00,452.06 L216.50,452.06 L217.00,452.06 L217.50,452.06 L218.00,452.06 L218.50,452.06 L219.00,452.06 L219.50,452.06 L220.00,452.06 L220.50,452.06 L221.00,452.06 L221.50,452.06 L222.00,452.06 L222.50,452.06 L223.00,452.06 L223.50,452.06 L224.00,452.06 L224.50,452.06 L225.00,452.06 L225.50,452.06 L226.00,452.06 L226.50,452.06 L227.00,452.06 L227.50,452.06 L228.00,452.06 L228.50,452.06 L229.00,452.06 L229.50,452.06 L230.00,452.06 L230.50,452.06 L231.00,452.06 L231.50,452.06 L232.00,452.06 L232.50,452.06 L233.00,452.06 L233.50,452.06 L234.00,452.05 L234.50,452.05 L235.00,452.05 L235.50,452.05 L236.00,452.05 L236.50,452.05 L237.00,452.05 L237.50,452.05 L238.00,452.05 L238.50,452.05 L239.00,452.05 L239.50,452.05 L240.00,452.05 L240.50,452.04 L241.00,452.04 L241.50,452.04 L242.00,452.04 L242.50,452.04 L243.00,452.03 L243.50,452.03 L244.00,452.03 L244.50,452.02 L245.00,452.02 L245.50,452.01 L246.00,452.00 L246.50,452.00 L247.00,451.99 L247.50,451.98 L248.00,451.97 L248.50,451.96 L249.00,451.95 L249.50,451.94 L250.00,451.93 L250.50,451.91 L251.00,451.89 L251.50,451.88 L252.00,451.86 L252.50,451.84 L253.00,451.81 L253.50,451.79 L254.00,451.76 L254.50,451.73 L255.00,451.69 L255.50,451.66 L256.00,451.62 L256.50,451.58 L257.00,451.53 L257.50,451.48 L258.00,451.43 L258.50,451.37 L259.00,451.31 L259.50,451.24 L260.00,451.17 L260.50,451.09 L261.00,451.01 L261.50,450.92 L262.00,450.82 L262.50,450.72 L263.00,450.61 L263.50,450.49 L264.00,450.37 L264.50,450.23 L265.00,450.09 L265.50,449.93 L266.00,449.77 L266.50,449.60 L267.00,449.41 L267.50,449.21 L268.00,449.00 L268.50,448.78 L269.00,448.54 L269.50,448.29 L270.00,448.02 L270.50,447.74 L271.00,447.44 L271.50,447.12 L272.00,446.78 L272.50,446.42 L273.00,446.05 L273.50,445.65 L274.00,445.23 L274.50,444.78 L275.00,444.31 L275.50,443.82 L276.00,443.30 L276.50,442.75 L277.00,442.17 L277.50,441.56 L278.00,440.93 L278.50,440.26 L279.00,439.55 L279.50,438.81 L280.00,438.03 L280.50,437.22 L281.00,436.36 L281.50,435.47 L282.00,434.53 L282.50,433.55 L283.00,432.53 L283.50,431.45 L284.00,430.33 L284.50,429.16 L285.00,427.94 L285.50,426.66 L286.00,425.33 L286.50,423.94 L287.00,422.50 L287.50,421.00 L288.00,419.43 L288.50,417.80 L289.00,416.11 L289.50,414.35 L290.00,412.52 L290.50,410.63 L291.00,408.66 L291.50,406.62 L292.00,404.51 L292.50,402.32 L293.00,400.06 L293.50,397.72 L294.00,395.30 L294.50,392.80 L295.00,390.22 L295.50,387.56 L296.00,384.81 L296.50,381.98 L297.00,379.07 L297.50,376.07 L298.00,372.99 L298.50,369.82 L299.00,366.57 L299.50,363.23 L300.00,359.81 L300.50,356.30 L301.00,352.71 L301.50,349.04 L302.00,345.28 L302.50,341.45 L303.00,337.53 L303.50,333.54 L304.00,329.47 L304.50,325.33 L305.00,321.12 L305.50,316.84 L306.00,312.49 L306.50,308.09 L307.00,303.62 L307.50,299.10 L308.00,294.53 L308.50,289.91 L309.00,285.25 L309.50,280.55 L310.00,275.82 L310.50,271.07 L311.00,266.29 L311.50,261.49 L312.00,256.68 L312.50,251.87 L313.00,247.06 L313.50,242.26 L314.00,237.47 L314.50,232.70 L315.00,227.96 L315.50,223.25 L316.00,218.58 L316.50,213.96 L317.00,209.39 L317.50,204.88 L318.00,200.44 L318.50,196.07 L319.00,191.77 L319.50,187.56 L320.00,183.44 L320.50,179.41 L321.00,175.49 L321.50,171.66 L322.00,167.95 L322.50,164.35 L323.00,160.86 L323.50,157.49 L324.00,154.25 L324.50,151.13 L325.00,148.14 L325.50,145.27 L326.00,142.53 L326.50,139.92 L327.00,137.44 L327.50,135.09 L328.00,132.86 L328.50,130.76 L329.00,128.79 L329.50,126.93 L330.00,125.20 L330.50,123.58 L331.00,122.07 L331.50,120.67 L332.00,119.38 L332.50,118.18 L333.00,117.09 L333.50,116.08 L334.00,115.16 L334.50,114.33 L335.00,113.57 L335.50,112.88 L336.00,112.26 L336.50,111.71 L337.00,111.21 L337.50,110.77 L338.00,110.38 L338.50,110.03 L339.00,109.73 L339.50,109.46 L340.00,109.23 L340.50,109.03 L341.00,108.85 L341.50,108.70 L342.00,108.57 L342.50,108.46 L343.00,108.37 L343.50,108.29 L344.00,108.22 L344.50,108.16 L345.00,108.12 L345.50,108.08 L346.00,108.05 L346.50,108.02 L347.00,108.00 L347.50,107.98 L348.00,107.97 L348.50,107.96 L349.00,107.95 L349.50,107.94 L350.00,107.94 L350.50,107.93 L351.00,107.93 L351.50,107.93 L352.00,107.93 L352.50,107.93 L353.00,107.92 L353.50,107.92 L354.00,107.92 L354.50,107.92 L355.00,107.92 L355.50,107.92 L356.00,107.92 L356.50,107.92 L357.00,107.92 L357.50,107.92 L358.00,107.92 L358.50,107.92 L359.00,107.92 L359.50,107.92 L360.00,107.92 L360.50,107.92 L361.00,107.92 L361.50,107.92 L362.00,107.92 L362.50,107.92 L363.00,107.92 L363.50,107.92 L364.00,107.92 L364.50,107.92 L365.00,107.92 L365.50,107.92 L366.00,107.92 L366.50,107.92 L367.00,107.92 L367.50,107.92 L368.00,107.92 L368.50,107.92 L369.00,107.92 L369.50,107.92 L370.00,107.92 L370.50,107.92 L371.00,107.92 L371.50,107.92 L372.00,107.92 L372.50,107.92 L373.00,107.92 L373.50,107.92 L374.00,107.92 L374.50,107.92 L375.00,107.92 L375.50,107.92 L376.00,107.92 L376.50,107.92 L377.00,107.92 L377.50,107.92 L378.00,107.92 L378.50,107.92 L379.00,107.92 L379.50,107.92 L380.00,107.92 L380.50,107.92 L381.00,107.92 L381.50,107.92 L382.00,107.92 L382.50,107.92 L383.00,107.92 L383.50,107.92 L384.00,107.92 L384.50,107.92 L385.00,107.92 L385.50,107.92 L386.00,107.92 L386.50,107.92 L387.00,107.92 L387.50,107.92 L388.00,107.92 L388.50,107.92 L389.00,107.92 L389.50,107.92 L390.00,107.92 L390.50,107.92 L391.00,107.92 L391.50,107.92 L392.00,107.92 L392.50,107.92 L393.00,107.92 L393.50,107.92 L394.00,107.92 L394.50,107.92 L395.00,107.92 L395.50,107.92 L396.00,107.92 L396.50,107.92 L397.00,107.92 L397.50,107.92 L398.00,107.92 L398.50,107.92 L399.00,107.92 L399.50,107.92 L400.00,107.92 L400.50,107.92 L401.00,107.92 L401.50,107.92 L402.00,107.92 L402.50,107.92 L403.00,107.92 L403.50,107.92 L404.00,107.92 L404.50,107.92 L405.00,107.92 L405.50,107.92 L406.00,107.92 L406.50,107.92 L407.00,107.92 L407.50,107.92 L408.00,107.92 L408.50,107.92 L409.00,107.92 L409.50,107.92 L410.00,107.92 L410.50,107.92 L411.00,107.92 L411.50,107.92 L412.00,107.92 L412.50,107.92 L413.00,107.92 L413.50,107.92 L414.00,107.92 L414.50,107.92 L415.00,107.92 L415.50,107.92 L416.00,107.92 L416.50,107.92 L417.00,107.92 L417.50,107.92 L418.00,107.92 L418.50,107.92 L419.00,107.92 L419.50,107.92 L420.00,107.92 L420.50,107.92 L421.00,107.92 L421.50,107.92 L422.00,107.92 L422.50,107.92 L423.00,107.92 L423.50,107.92 L424.00,107.92 L424.50,107.92 L425.00,107.92 L425.50,107.92 L426.00,107.92 L426.50,107.92 L427.00,107.92 L427.50,107.92 L428.00,107.92 L428.50,107.92 L429.00,107.92 L429.50,107.92 L430.00,107.92 L430.50,107.92 L431.00,107.92 L431.50,107.92 L432.00,107.92 L432.50,107.92 L433.00,107.92 L433.50,107.92 L434.00,107.92 L434.50,107.92 L435.00,107.92 L435.50,107.92 L436.00,107.92 L436.50,107.92 L437.00,107.92 L437.50,107.92 L438.00,107.92 L438.50,107.92 L439.00,107.92 L439.50,107.92 L440.00,107.92 L440.50,107.92 L441.00,107.92 L441.50,107.92 L442.00,107.92 L442.50,107.92 L443.00,107.92 L443.50,107.92 L444.00,107.92 L444.50,107.92 L445.00,107.92 L445.50,107.92 L446.00,107.92 L446.50,107.92 L447.00,107.92 L447.50,107.92 L448.00,107.92 L448.50,107.92 L449.00,107.92 L449.50,107.92 L450.00,107.92 L450.50,107.92 L451.00,107.92 L451.50,107.92 L452.00,107.92 L452.50,107.92 L453.00,107.92 L453.50,107.92 L454.00,107.92 L454.50,107.92 L455.00,107.92 L455.50,107.92 L456.00,107.92 L456.50,107.92 L457.00,107.92 L457.50,107.92 L458.00,107.92 L458.50,107.92 L459.00,107.92 L459.50,107.92 L460.00,107.92 L460.50,107.92 L461.00,107.92 L461.50,107.92 L462.00,107.92 L462.50,107.92 L463.00,107.92 L463.50,107.92 L464.00,107.92 L464.50,107.92 L465.00,107.92 L465.50,107.92 L466.00,107.92 L466.50,107.92 L467.00,107.92 L467.50,107.92 L468.00,107.92 L468.50,107.92 L469.00,107.92 L469.50,107.92 L470.00,107.92 L470.50,107.92 L471.00,107.92 L471.50,107.92 L472.00,107.92 L472.50,107.92 L473.00,107.92 L473.50,107.92 L474.00,107.92 L474.50,107.92 L475.00,107.92 L475.50,107.92 L476.00,107.92 L476.50,107.92 L477.00,107.92 L477.50,107.92 L478.00,107.92 L478.50,107.92 L479.00,107.92 L479.50,107.92 L480.00,107.92 L480.50,107.92 L481.00,107.92 L481.50,107.92 L482.00,107.92 L482.50,107.92 L483.00,107.92 L483.50,107.92 L484.00,107.92 L484.50,107.92 L485.00,107.92 L485.50,107.92 L486.00,107.92 L486.50,107.92 L487.00,107.92 L487.50,107.92 L488.00,107.92 L488.50,107.92 L489.00,107.92 L489.50,107.92 L490.00,107.92 L490.50,107.92 L491.00,107.92 L491.50,107.92 L492.00,107.92 L492.50,107.92 L493.00,107.92 L493.50,107.92 L494.00,107.92 L494.50,107.92 L495.00,107.92 L495.50,107.92 L496.00,107.92 L496.50,107.92 L497.00,107.92 L497.50,107.92 L498.00,107.92 L498.50,107.92 L499.00,107.92 L499.50,107.92 L500.00,107.92 L500.50,107.92 L501.00,107.92 L501.50,107.92 L502.00,107.92 L502.50,107.92 L503.00,107.92 L503.50,107.92 L504.00,107.92 L504.50,107.92 L505.00,107.92 L505.50,107.92 L506.00,107.92 L506.50,107.92 L507.00,107.92 L507.50,107.92 L508.00,107.92 L508.50,107.92 L509.00,107.92 L509.50,107.92 L510.00,107.92 L510.50,107.92 L511.00,107.92 L511.50,107.92 L512.00,107.92 L512.50,107.92 L513.00,107.92 L513.50,107.92 L514.00,107.92 L514.50,107.92 L515.00,107.92 L515.50,107.92 L516.00,107.92 L516.50,107.92 L517.00,107.92 L517.50,107.92 L518.00,107.92 L518.50,107.92 L519.00,107.92 L519.50,107.92 L520.00,107.92 L520.50,107.92 L521.00,107.92 L521.50,107.92 L522.00,107.92 L522.50,107.92 L523.00,107.92 L523.50,107.92 L524.00,107.92 L524.50,107.92 L525.00,107.92 L525.50,107.92 L526.00,107.92 L526.50,107.92 L527.00,107.92 L527.50,107.92 L528.00,107.92 L528.50,107.92 L529.00,107.92 L529.50,107.92 L530.00,107.92 L530.50,107.92 L531.00,107.92 L531.50,107.92 L532.00,107.92 L532.50,107.92 L533.00,107.92 L533.50,107.92 L534.00,107.92 L534.50,107.92 L535.00,107.92 L535.50,107.92 L536.00,107.92 L536.50,107.92 L537.00,107.92 L537.50,107.92 L538.00,107.92 L538.50,107.92 L539.00,107.92 L539.50,107.92 L540.00,107.92 L540.50,107.92 L541.00,107.92 L541.50,107.92 L542.00,107.92 L542.50,107.92 L543.00,107.92 L543.50,107.92 L544.00,107.92 L544.50,107.92 L545.00,107.92 L545.50,107.92 L546.00,107.92 L546.50,107.92 L547.00,107.92 L547.50,107.92 L548.00,107.92 L548.50,107.92 L549.00,107.92 L549.50,107.92 L550.00,107.92 L550.50,107.92 L551.00,107.92 L551.50,107.92 L552.00,107.92 L552.50,107.92 L553.00,107.92 L553.50,107.92 L554.00,107.92 L554.50,107.92 L555.00,107.92 L555.50,107.92 L556.00,107.92 L556.50,107.92 L557.00,107.92 L557.50,107.92 L558.00,107.92 L558.50,107.92 L559.00,107.92 L559.50,107.92 L560.00,107.92 L560.50,107.92 L561.00,107.92 L561.50,107.92 L562.00,107.92 L562.50,107.92 L563.00,107.92 L563.50,107.92 L564.00,107.92 L564.50,107.92 L565.00,107.92 L565.50,107.92 L566.00,107.92 L566.50,107.92 L567.00,107.92 L567.50,107.92 L568.00,107.92 L568.50,107.92 L569.00,107.92 L569.50,107.92 L570.00,107.92 L570.50,107.92 L571.00,107.92 L571.50,107.92 L572.00,107.92 L572.50,107.92 L573.00,107.92 L573.50,107.92 L574.00,107.92 L574.50,107.92 L575.00,107.92 L575.50,107.92 L576.00,107.92 L576.50,107.92 L577.00,107.92 L577.50,107.92 L578.00,107.92 L578.50,107.92 L579.00,107.92 L579.50,107.92 L580.00,107.92 L580.50,107.92 L581.00,107.92 L581.50,107.92 L582.00,107.92 L582.50,107.92 L583.00,107.92 L583.50,107.92 L584.00,107.92 L584.50,107.92 L585.00,107.92 L585.50,107.92 L586.00,107.92 L586.50,107.92 L587.00,107.92 L587.50,107.92 L588.00,107.92 L588.50,107.92 L589.00,107.92 L589.50,107.92 L590.00,107.92 L590.50,107.92 L591.00,107.92 L591.50,107.92 L592.00,107.92 L592.50,107.92 L593.00,107.92 L593.50,107.92 L594.00,107.92 L594.50,107.92 L595.00,107.92 L595.50,107.92 L596.00,107.92 L596.50,107.92 L597.00,107.92 L597.50,107.92 L598.00,107.92 L598.50,107.92 L599.00,107.92 L599.50,107.92 L600.00,107.92 L600.50,107.92 L601.00,107.92 L601.50,107.92 L602.00,107.92 L602.50,107.92 L603.00,107.92 L603.50,107.92 L604.00,107.92 L604.50,107.92 L605.00,107.92 L605.50,107.92 L606.00,107.92 L606.50,107.92 L607.00,107.92 L607.50,107.92 L608.00,107.92 L608.50,107.92 L609.00,107.92 L609.50,107.92 L610.00,107.92 L610.50,107.92 L611.00,107.92 L611.50,107.92 L612.00,107.92 L612.50,107.92 L613.00,107.92 L613.50,107.92" fill="none" stroke="#007a36" stroke-width="4" stroke-linejoin="round"/>
<line x1="156.2" y1="237.6" x2="644.5" y2="237.6" stroke="#383838" stroke-width="2.8" stroke-linecap="round" stroke-dasharray="0.001 7.983"/>
<path d="M125,57.7 H136 V508.7" fill="none" stroke="#1b1b1b" stroke-width="4.1" stroke-linejoin="miter"/>
<line x1="125" y1="244.9" x2="136" y2="244.9" stroke="#1b1b1b" stroke-width="4.2"/>
<line x1="125" y1="432.05" x2="136" y2="432.05" stroke="#1b1b1b" stroke-width="4.2"/>
<path d="M159.1,535.9 V524.9 H645.6 V535.5" fill="none" stroke="#1b1b1b" stroke-width="3.8"/>
<line x1="214.5" y1="524.9" x2="214.5" y2="535.6" stroke="#1b1b1b" stroke-width="4"/>
<line x1="322.2" y1="524.9" x2="322.2" y2="535.6" stroke="#1b1b1b" stroke-width="4"/>
<line x1="430.1" y1="524.9" x2="430.1" y2="535.6" stroke="#1b1b1b" stroke-width="4"/>
<line x1="538.1" y1="524.9" x2="538.1" y2="535.6" stroke="#1b1b1b" stroke-width="4"/>
<rect x="404.8" y="334.2" width="245.7" height="180" fill="#fff" stroke="#1b1b1b" stroke-width="3"/>
<circle cx="424.1" cy="403.8" r="10.1" fill="#fff" stroke="#1b1b1b" stroke-width="3.9"/>
<line x1="591" y1="403.8" x2="641.3" y2="403.8" stroke="#1b1b1b" stroke-width="4.3"/>
<circle cx="424.1" cy="441.6" r="10.1" fill="#fff" stroke="#e1000b" stroke-width="3.9"/>
<line x1="591" y1="441.6" x2="641.3" y2="441.6" stroke="#e1000b" stroke-width="4.3"/>
<circle cx="424.1" cy="479.8" r="10.1" fill="#fff" stroke="#007a36" stroke-width="3.9"/>
<line x1="591" y1="479.8" x2="641.3" y2="479.8" stroke="#007a36" stroke-width="4.3"/>
<text x="0" y="0" font-family="Liberation Sans, sans-serif" font-size="30" fill="#000" stroke="#000" stroke-width="0.35" transform="matrix(1.0550 0.0000 0.0000 1.0550 95.620 67.900)">1</text>
<text x="0" y="0" font-family="Liberation Sans, sans-serif" font-size="30" fill="#000" stroke="#000" stroke-width="0.35" transform="matrix(1.0035 0.0000 0.0000 1.1100 58.996 255.700)">0.75</text>
<text x="0" y="0" font-family="Liberation Sans, sans-serif" font-size="30" fill="#000" stroke="#000" stroke-width="0.35" transform="matrix(1.0150 0.0000 0.0000 1.1100 75.785 442.700)">0.5</text>
<text x="0" y="0" font-family="Liberation Sans, sans-serif" font-size="30" fill="#000" stroke="#000" stroke-width="0.35" transform="matrix(0.9440 0.0000 0.0000 1.0250 131.306 563.600)">-10</text>
<text x="0" y="0" font-family="Liberation Sans, sans-serif" font-size="30" fill="#000" stroke="#000" stroke-width="0.35" transform="matrix(0.9933 0.0000 0.0000 1.0250 206.907 563.600)">0</text>
<text x="0" y="0" font-family="Liberation Sans, sans-serif" font-size="30" fill="#000" stroke="#000" stroke-width="0.35" transform="matrix(0.9250 0.0000 0.0000 1.0250 307.475 563.600)">20</text>
<text x="0" y="0" font-family="Liberation Sans, sans-serif" font-size="30" fill="#000" stroke="#000" stroke-width="0.35" transform="matrix(0.8939 0.0000 0.0000 1.0250 416.000 563.600)">40</text>
<text x="0" y="0" font-family="Liberation Sans, sans-serif" font-size="30" fill="#000" stroke="#000" stroke-width="0.35" transform="matrix(0.9000 0.0000 0.0000 1.0250 522.600 563.600)">60</text>
<text x="0" y="0" font-family="Liberation Sans, sans-serif" font-size="30" fill="#000" stroke="#000" stroke-width="0.35" transform="matrix(0.9375 0.0000 0.0000 0.9900 630.962 563.200)">80</text>
<text x="0" y="0" font-family="Liberation Sans, sans-serif" font-size="30.7" fill="#000" stroke="#000" stroke-width="0.35" transform="matrix(1.0000 0.0000 0.0000 0.9867 148.600 600.193)">Tone Sound Pressure Level (dB SPL)</text>
<text x="0" y="0" font-family="Liberation Sans, sans-serif" font-size="28" fill="#000" stroke="#000" stroke-width="0.35" transform="matrix(0.9789 0.0000 0.0000 1.0737 408.042 372.200)">Data</text>
<text x="0" y="0" font-family="Liberation Sans, sans-serif" font-size="28" fill="#000" stroke="#000" stroke-width="0.35" transform="matrix(0.9966 0.0000 0.0000 1.0200 599.407 372.400)">Fit</text>
<text x="0" y="0" font-family="Liberation Sans, sans-serif" font-size="25" fill="#000" stroke="#000" stroke-width="0.35" transform="matrix(1.0136 0.0000 0.0000 0.9400 482.486 412.200)">Quiet</text>
<text x="0" y="0" font-family="Liberation Sans, sans-serif" font-size="25" fill="#000" stroke="#000" stroke-width="0.35" transform="matrix(1.0115 0.0000 0.0000 0.9263 480.677 449.700)">Noise</text>
<text x="0" y="0" font-family="Liberation Sans, sans-serif" font-size="25" fill="#000" stroke="#000" stroke-width="0.35" transform="matrix(0.9960 0.0000 0.0000 0.9421 450.008 486.900)">Mod. Noise</text>
<text x="0" y="0" font-family="Liberation Sans, sans-serif" font-size="30.5" fill="#000" stroke="#000" stroke-width="0.35" transform="matrix(0.0000 -0.9962 0.9733 0.0000 46.487 450.292)">Probability Correct (P(C))</text></svg></body></html>
